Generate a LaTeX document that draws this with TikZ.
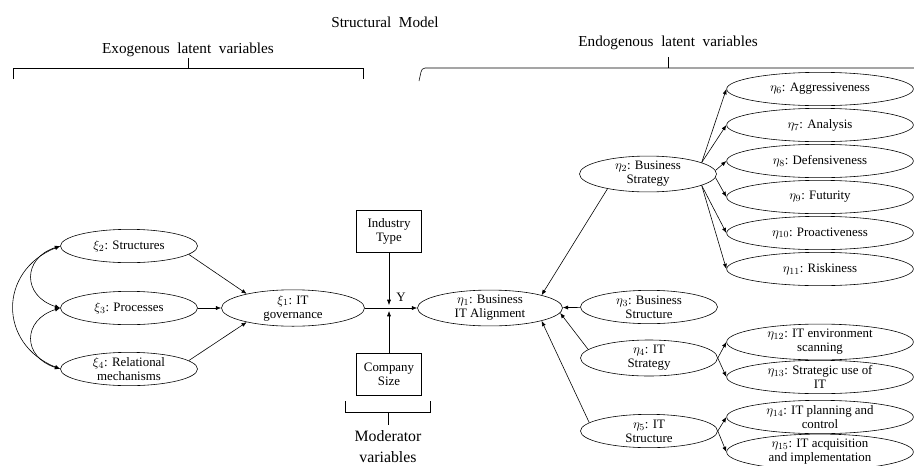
\documentclass[tikz,border=0pt]{standalone}
\usepackage{fontspec}
\setmainfont{Liberation Serif}
\usetikzlibrary{shapes.geometric,arrows.meta}

\begin{document}
\begin{tikzpicture}[x=0.03cm,y=-0.03cm,
  every node/.style={font=\fontsize{11}{12}\selectfont},
  lv/.style={ellipse,draw,line width=0.5pt,inner sep=0pt,align=center,
             minimum width=4.11cm,minimum height=1.0cm},
  wide/.style={lv,minimum width=5.6cm},
  modbox/.style={draw,line width=0.5pt,align=center,inner sep=0pt,
                 minimum width=1.95cm,minimum height=1.26cm},
  lnk/.style={line width=0.5pt},
  rel/.style={lnk,-{Latex[length=4.5pt,width=3.5pt]}},
  corr/.style={lnk,{Latex[length=4.5pt,width=3.5pt]}-{Latex[length=4.5pt,width=3.5pt]}},
  hdr/.style={font=\fontsize{13}{14}\selectfont},
  modtxt/.style={font=\fontsize{13.5}{18}\selectfont,align=center}
]
\useasboundingbox (0,0) rectangle (914,465);

% headings and braces
\node[hdr] (sm) at (385,22) {Structural\ \ Model};
\node[hdr] (exo) at (188,50) {Exogenous\ \ latent\ \ variables};
\node[hdr] (endo) at (668,43) {Endogenous\ \ latent\ \ variables};
\draw[lnk] (13,79) -- (13,68) -- (363,68) -- (363,79);
\draw[lnk] (188,68) -- (188,58);
\draw[lnk] (419,81) -- (421,72) .. controls (422,69) .. (425,68) -- (914,68);
\draw[lnk] (668,68) -- (668,57);

% exogenous constructs
\node[lv] (x2) at (129,246) {$\xi_2$: Structures};
\node[lv] (x3) at (129,308) {$\xi_3$: Processes};
\node[lv] (x4) at (129,369) {$\xi_4$: Relational\\mechanisms};
\node[lv,minimum width=4.29cm,minimum height=1.05cm] (x1) at (293,308) {$\xi_1$: IT\\governance};

\draw[corr] (x2.west) .. controls +(-38,12) and +(-38,-12) .. (x3.west);
\draw[corr] (x3.west) .. controls +(-38,12) and +(-38,-12) .. (x4.west);
\draw[corr] (x2.west) .. controls +(-62,25) and +(-62,-25) .. (x4.west);

\draw[rel] (x2.-8) -- (x1.163);
\draw[rel] (x3) -- (x1);
\draw[rel] (x4.8) -- (x1.-163);

% moderators
\node[modbox] (ind) at (389,231) {Industry\\Type};
\node[modbox] (comp) at (389,374) {Company\\Size};
\coordinate (jt) at (389,305);
\coordinate (jb) at (389,311);
\draw[rel] (ind) -- (jt);
\draw[rel] (comp) -- (jb);
\node (gam) at (401,297) {Y};
\draw[lnk] (345,401) -- (345,412) -- (430,412) -- (430,401);
\draw[lnk] (388,412) -- (388,425);
\node[modtxt] (mod) at (388,447) {Moderator\\variables};

% endogenous constructs
\node[lv,minimum width=4.35cm] (ba) at (490,308) {$\eta_1$: Business\\IT Alignment};
\draw[rel] (x1) -- (ba);

\node[lv] (bs) at (648,174) {$\eta_2$: Business\\Strategy};
\node[lv] (bst) at (649,307) {$\eta_3$: Business\\Structure};
\node[lv,minimum height=1.08cm] (its) at (649,358) {$\eta_4$: IT\\Strategy};
\node[lv] (itst) at (649,431) {$\eta_5$: IT\\Structure};

\draw[rel] (bs.-160) -- (ba.14);
\draw[rel] (bst) -- (ba);
\draw[rel] (its.172) -- (ba.-4);
\draw[rel] (itst.172) -- (ba.-14);

% business strategy dimensions
\node[wide] (e6)  at (820,89)  {$\eta_6$: Aggressiveness};
\node[wide] (e7)  at (820,125) {$\eta_7$: Analysis};
\node[wide] (e8)  at (820,161) {$\eta_8$: Defensiveness};
\node[wide] (e9)  at (820,197) {$\eta_9$: Futurity};
\node[wide] (e10) at (820,233) {$\eta_{10}$: Proactiveness};
\node[wide] (e11) at (820,269) {$\eta_{11}$: Riskiness};

\draw[rel] (bs.12) -- (e6.west);
\draw[rel] (bs.12) -- (e7.west);
\draw[rel] (bs.3) -- (e8.west);
\draw[rel] (bs.-3) -- (e9.west);
\draw[rel] (bs.-12) -- (e10.west);
\draw[rel] (bs.-12) -- (e11.west);

% IT strategy and IT structure dimensions
\node[wide] (e12) at (820,342) {$\eta_{12}$: IT environment\\scanning};
\node[wide] (e13) at (820,377) {$\eta_{13}$: Strategic use of\\IT};
\node[wide] (e14) at (820,417) {$\eta_{14}$: IT planning and\\control};
\node[wide] (e15) at (820,452) {$\eta_{15}$: IT acquisition\\and implementation};

\draw[rel] (its.east) -- (e12.west);
\draw[rel] (its.east) -- (e13.west);
\draw[rel] (itst.east) -- (e14.west);
\draw[rel] (itst.east) -- (e15.west);
\end{tikzpicture}
\end{document}
